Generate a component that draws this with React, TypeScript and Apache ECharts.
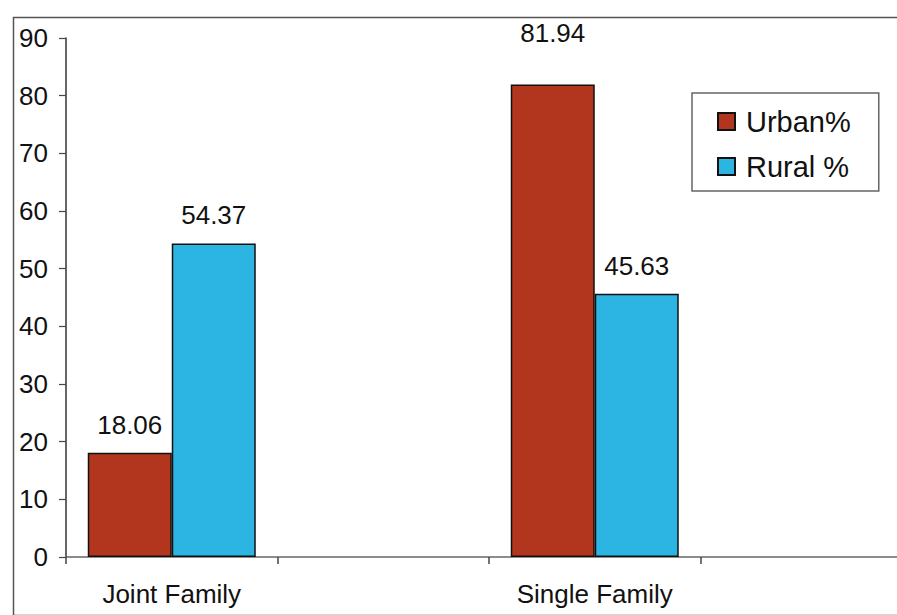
import React, { useEffect, useRef } from "react";
import * as echarts from "echarts";

const categories = ["Joint Family", "", "Single Family", ""];
const urbanPct = [18.06, null, 81.94, null];
const ruralPct = [54.37, null, 45.63, null];
const yTicks = { min: 0, max: 90, interval: 10 };

const FONT = "Liberation Sans, Arial, sans-serif";

export default function App() {
  const ref = useRef<HTMLDivElement>(null);

  useEffect(() => {
    if (!ref.current) return;
    const chart = echarts.init(ref.current, null, { renderer: "svg" });
    const labelStyle = {
      show: true,
      position: "top" as const,
      distance: 15,
      color: "#111",
      fontSize: 26,
      fontFamily: FONT,
      formatter: (p: any) => Number(p.value).toFixed(2),
    };
    // the tallest bar's label sits higher, clear of the plot top
    const urbanData = urbanPct.map((v) =>
      v !== null && v > 80 ? { value: v, label: { distance: 38 } } : v
    );
    chart.setOption({
      animation: false,
      backgroundColor: "#fff",
      textStyle: { fontFamily: FONT },
      grid: { left: 66, top: 38, bottom: 58, width: 846, containLabel: false },
      legend: {
        orient: "vertical",
        left: 692,
        top: 93,
        itemWidth: 17,
        itemHeight: 17,
        itemGap: 12,
        padding: [12, 28, 8, 25],
        borderColor: "#666",
        borderWidth: 1.5,
        icon: "rect",
        textStyle: { fontSize: 29, color: "#111", fontFamily: FONT, lineHeight: 33, padding: [0, 0, 0, 6] },
        data: ["Urban%", "Rural %"],
      },
      xAxis: {
        type: "category",
        data: categories,
        boundaryGap: true,
        axisLine: { show: true, lineStyle: { color: "#666", width: 1.5 } },
        axisTick: { show: true, length: 7, interval: 0, lineStyle: { color: "#444", width: 1.5 } },
        axisLabel: { interval: 0, margin: 24, fontSize: 26, color: "#111", fontFamily: FONT },
      },
      yAxis: {
        type: "value",
        min: yTicks.min,
        max: yTicks.max,
        interval: yTicks.interval,
        splitLine: { show: false },
        axisLine: { show: true, lineStyle: { color: "#333", width: 1.5 } },
        axisTick: { show: true, length: 7, lineStyle: { color: "#445", width: 1.2 } },
        axisLabel: { margin: 18, fontSize: 26, color: "#111", fontFamily: FONT },
      },
      series: [
        {
          name: "Urban%",
          type: "bar",
          data: urbanData,
          barWidth: 84,
          barGap: "0%",
          itemStyle: { color: "#b2361d", borderColor: "#111", borderWidth: 1.5 },
          label: labelStyle,
        },
        {
          name: "Rural %",
          type: "bar",
          data: ruralPct,
          barWidth: 84,
          itemStyle: { color: "#2cb4e2", borderColor: "#111", borderWidth: 1.5 },
          label: labelStyle,
        },
      ],
      graphic: [
        {
          type: "rect",
          left: 11,
          top: 15,
          shape: { x: 0, y: 0, width: 920, height: 598 },
          style: { fill: "none", stroke: "#555", lineWidth: 1.5 },
          silent: true,
          z: -1,
        },
      ],
    });
    return () => chart.dispose();
  }, []);

  return (
    <div
      style={{
        position: "absolute",
        left: 0,
        top: 0,
        width: 897,
        height: 615,
        overflow: "hidden",
      }}
    >
      <div ref={ref} style={{ width: 930, height: 615 }} />
    </div>
  );
}
